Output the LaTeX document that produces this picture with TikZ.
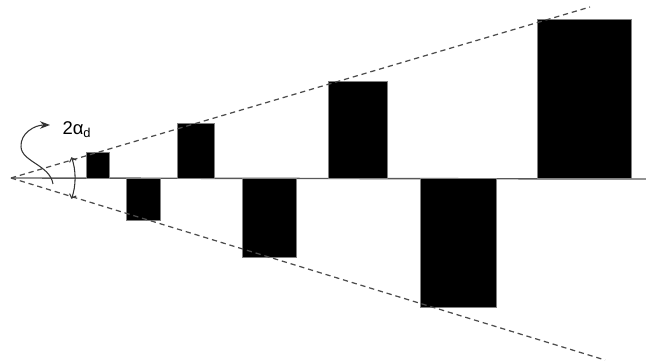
\documentclass[tikz,border=0pt]{standalone}
\usepackage{fontspec}
\setmainfont{Liberation Sans}
\usetikzlibrary{arrows.meta}
\tikzset{bar/.style={fill=black, draw=gray, thin},
  guide/.style={dashed, dash pattern=on 3pt off 2.2pt, gray!60!black, line width=0.7pt}}

\begin{document}
\begin{tikzpicture}[x=0.02cm, y=-0.02cm, >=Stealth, line width=0.6pt]
        \useasboundingbox (0,0) rectangle (646,361);
        % Points
        \coordinate (O) at (11,178);
        \coordinate (up) at (590,7);
        \coordinate (down) at (605,360);
        \coordinate (end) at (646,179);

        % Axis
        \draw[gray!70!black, line width=0.8pt] (O) -- (end);

        % Bars
        \draw[bar] (86,178) rectangle (109,152);
        \draw[bar] (126,178) rectangle (160,220);
        \draw[bar] (177,178) rectangle (214,123);
        \draw[bar] (242,178) rectangle (296,257);
        \draw[bar] (328,178) rectangle (387,81);
        \draw[bar] (420,178) rectangle (496,307);
        \draw[bar] (537,178) rectangle (631,19);

        % Dashed envelope
        \draw[guide] (O) -- (up);
        \draw[guide] (O) -- (down);

        % Angle
        \draw[gray!40!black, {Straight Barb[length=2pt]}-{Straight Barb[length=2pt]}]
            ([shift={(-19:64)}]O) arc[start angle=-19, end angle=19, radius=64];
        \draw[gray!40!black, ->] (53,184) .. controls (50,165) and (22,162) .. (21,147)
            .. controls (20,133) and (35,125) .. (50,125);
        \node[font=\fontsize{10.5}{12}\selectfont] (alpha) at (77,130) {2α\textsubscript{d}};
    \end{tikzpicture}
\end{document}
